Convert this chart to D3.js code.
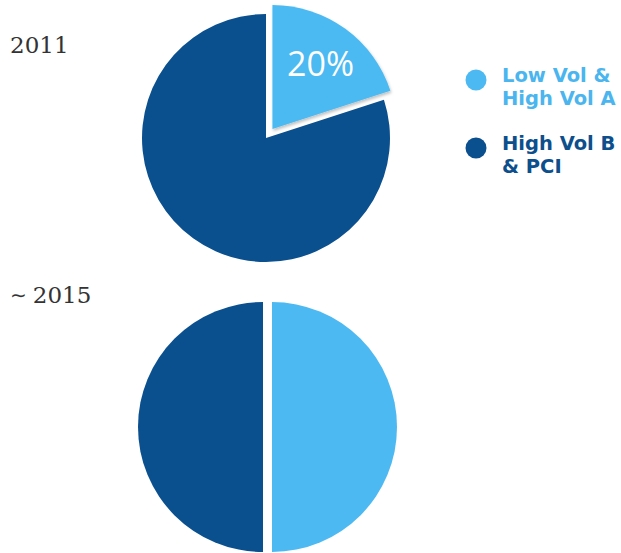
<!DOCTYPE html>
<html>
<head>
<meta charset="utf-8">
<script src="https://cdn.jsdelivr.net/npm/d3@7/dist/d3.min.js"></script>
<style>
  html, body { margin: 0; padding: 0; background: #ffffff; }
  svg { display: block; }
</style>
</head>
<body>
<svg id="chart" width="621" height="553"></svg>
<script>
// Segment names (legend order) and their share in each period
const segments = ["Low Vol & High Vol A", "High Vol B & PCI"];
const legendLines = [["Low Vol &", "High Vol A"], ["High Vol B", "& PCI"]];
const periodPrefix = ["", "\u223C"];
const periods = ["2011", "2015"];
const share2011 = [20, 80];
const share2015 = [50, 50];
const shares = [share2011, share2015];

const colors = ["#4cb9f2", "#0a4f8e"];
const legendTextColors = ["#4ab5ee", "#0d4f8c"];

const svg = d3.select("#chart");

const defs = svg.append("defs");
const shadow = defs.append("filter").attr("id", "sliceShadow")
  .attr("x", "-20%").attr("y", "-20%").attr("width", "140%").attr("height", "140%");
shadow.append("feDropShadow")
  .attr("dx", 1).attr("dy", 2).attr("stdDeviation", 1.4)
  .attr("flood-color", "#000").attr("flood-opacity", 0.25);

const color = d3.scaleOrdinal().domain(segments).range(colors);

const pie = d3.pie().sort(null).value(d => d.value);

// layout of each pie: centre, radius, how far each slice is pulled out
const layouts = [
  { cx: 266, cy: 138, r: 124, explode: [11, 0], shadow: [true, false], labels: [true, false],
    titleX: 10, titleY: 53 },
  { cx: 267.5, cy: 427, r: 125, explode: [4.5, 4.5], shadow: [false, false], labels: [false, false],
    titleX: 10, titleY: 303 }
];

shares.forEach((vals, i) => {
  const L = layouts[i];
  const data = segments.map((s, k) => ({ name: s, value: vals[k], k }));
  const arcs = pie(data);
  const arc = d3.arc().innerRadius(0).outerRadius(L.r);
  const labelArc = d3.arc().innerRadius(L.r * 0.66).outerRadius(L.r * 0.66);

  const g = svg.append("g").attr("transform", `translate(${L.cx},${L.cy})`);

  const slices = g.selectAll("g.slice").data(arcs).join("g")
    .attr("class", "slice")
    .attr("transform", d => {
      const mid = (d.startAngle + d.endAngle) / 2;
      const e = L.explode[d.data.k];
      return `translate(${e * Math.sin(mid)},${-e * Math.cos(mid)})`;
    });

  slices.append("path")
    .attr("d", arc)
    .attr("fill", d => color(d.data.name))
    .attr("filter", d => L.shadow[d.data.k] ? "url(#sliceShadow)" : null);

  slices.filter(d => L.labels[d.data.k]).append("text")
    .attr("transform", d => `translate(${labelArc.centroid(d)})`)
    .attr("text-anchor", "middle")
    .attr("dominant-baseline", "central")
    .attr("font-family", "'Open Sans', sans-serif")
    .attr("font-size", 34)
    .attr("fill", "#ffffff")
    .text(d => d.data.value + "%");

  const title = svg.append("text")
    .attr("x", L.titleX).attr("y", L.titleY)
    .attr("font-family", "'DejaVu Serif', serif")
    .attr("font-size", 23)
    .attr("fill", "#333333");
  if (periodPrefix[i]) {
    title.append("tspan")
      .attr("font-family", "'DejaVu Sans', sans-serif")
      .attr("font-size", 20)
      .attr("dy", -1)
      .text(periodPrefix[i]);
    title.append("tspan").attr("dy", 1).attr("dx", 6).text(periods[i]);
  } else {
    title.text(periods[i]);
  }
});

// legend
const legend = svg.append("g").attr("transform", "translate(476,80)");
const items = legend.selectAll("g").data(segments).join("g")
  .attr("transform", (d, i) => `translate(0,${i * 68})`);
items.append("circle")
  .attr("r", 10.5)
  .attr("fill", d => color(d));
items.each(function (d, i) {
  const t = d3.select(this).append("text")
    .attr("font-family", "'DejaVu Sans', Verdana, sans-serif")
    .attr("font-size", 19.5)
    .attr("font-weight", "bold")
    .attr("fill", legendTextColors[i]);
  legendLines[i].forEach((line, j) => {
    t.append("tspan").attr("x", 26).attr("y", j === 0 ? 2 : 25).text(line);
  });
});
</script>
</body>
</html>
